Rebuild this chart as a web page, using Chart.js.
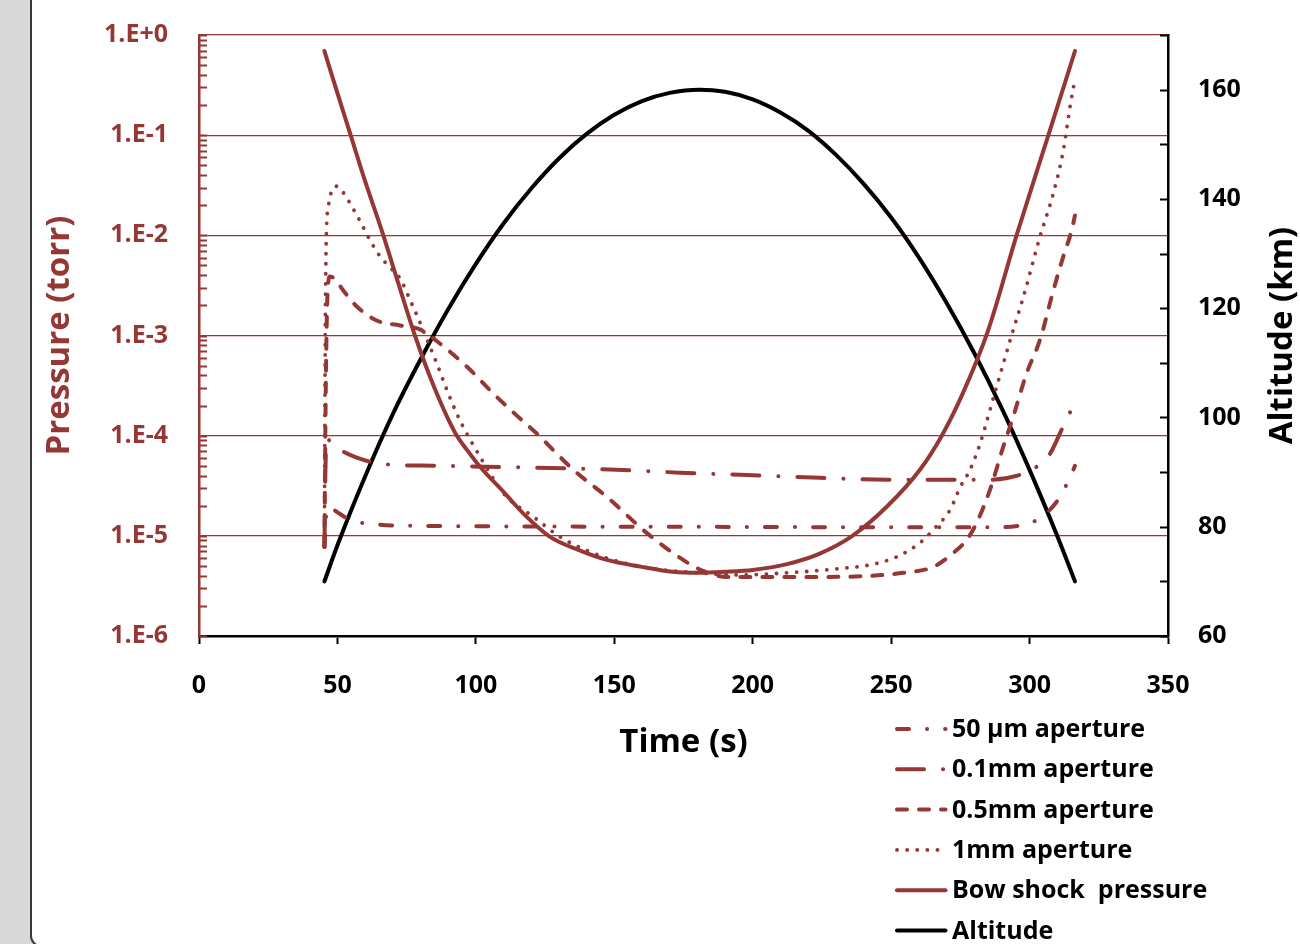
<!DOCTYPE html>
<html>
<head>
<meta charset="utf-8">
<title>Pressure and altitude vs time</title>
<script src="https://cdn.jsdelivr.net/npm/chart.js@4.4.1/dist/chart.umd.min.js"></script>
<style>
  html, body { margin: 0; padding: 0; }
  body { width: 1300px; height: 944px; background: #d9d9d9; overflow: hidden; position: relative; }
  .panel { position: absolute; left: 30px; top: -20px; width: 1290px; height: 967px; background: #fff;
           border: 2px solid #3a3a3a; border-radius: 11px; box-sizing: border-box; }
  #chart { position: absolute; left: 0; top: 0; }
</style>
</head>
<body>
<div class="panel"></div>
<canvas id="chart" width="1300" height="944"></canvas>
<script>
// --- Trajectory data: time (s), pressure (torr), altitude (km) ---
const um50Time = [45.3, 45.7, 46.2, 48, 49.7, 54.5, 65.4, 78.6, 120, 180, 240, 290, 296, 301.4, 309.8, 315.2, 316.4];
const um50Pressure = [7.76e-6, 1.26e-5, 1.91e-5, 1.86e-5, 1.74e-5, 1.45e-5, 1.29e-5, 1.26e-5, 1.24e-5, 1.23e-5, 1.22e-5, 1.22e-5, 1.26e-5, 1.38e-5, 2.19e-5, 4.17e-5, 5.01e-5];

const mm01Time = [45.3, 45.7, 46.1, 47.5, 49.5, 52.1, 57, 61.8, 69, 84.6, 122, 150.9, 173.7, 195.4, 224.3, 248.4, 272.5, 285, 296.6, 302.6, 307.4, 311.6, 314.4, 316.4];
const mm01Pressure = [7.76e-6, 5.01e-5, 9.33e-5, 8.71e-5, 7.76e-5, 6.92e-5, 6.03e-5, 5.50e-5, 5.13e-5, 5.01e-5, 4.79e-5, 4.57e-5, 4.27e-5, 4.07e-5, 3.80e-5, 3.63e-5, 3.63e-5, 3.63e-5, 4.07e-5, 4.90e-5, 6.61e-5, 1.15e-4, 1.66e-4, 2.19e-4];

const mm05Time = [45.3, 45.8, 46.4, 47.3, 49.5, 52.1, 57, 64.2, 72.6, 79.8, 87, 96.7, 106.3, 114, 122, 135.2, 147.3, 161.7, 174.9, 182, 190.6, 200, 224, 242.4, 254.4, 265.2, 272.5, 277.3, 280.9, 285.7, 290.5, 294.1, 298.9, 303.8, 308.6, 312.2, 315.2, 316.4];
const mm05Pressure = [7.76e-6, 3.16e-4, 2.51e-3, 3.89e-3, 3.55e-3, 2.82e-3, 1.95e-3, 1.41e-3, 1.26e-3, 1.15e-3, 8.32e-4, 4.90e-4, 2.63e-4, 1.66e-4, 1.05e-4, 4.57e-5, 2.45e-5, 1.07e-5, 5.75e-6, 4.47e-6, 3.89e-6, 3.89e-6, 3.89e-6, 3.98e-6, 4.27e-6, 4.90e-6, 6.76e-6, 9.12e-6, 1.35e-5, 2.88e-5, 7.76e-5, 1.55e-4, 4.17e-4, 9.12e-4, 2.82e-3, 6.17e-3, 1.12e-2, 1.58e-2];

const mm1Time = [45.3, 45.6, 46.0, 46.8, 48, 49.7, 51.5, 53.9, 58.2, 61.8, 65.4, 69, 72.6, 76.8, 79.2, 82.2, 85.9, 89.5, 93.1, 96.7, 101.5, 106.3, 111.1, 120.8, 130.4, 141.2, 153.3, 165, 180, 195, 212.3, 230.3, 242.4, 252, 260.4, 265.2, 271.3, 275, 278.5, 282, 288, 293.5, 297.8, 303.8, 308.6, 312.2, 314.6, 316.3];
const mm1Pressure = [7.76e-6, 1.0e-3, 1.0e-2, 2.0e-2, 2.82e-2, 3.09e-2, 2.82e-2, 2.24e-2, 1.38e-2, 8.91e-3, 6.17e-3, 4.79e-3, 3.72e-3, 2.09e-3, 1.48e-3, 9.33e-4, 5.25e-4, 2.88e-4, 1.66e-4, 1.05e-4, 6.17e-5, 3.72e-5, 2.45e-5, 1.55e-5, 9.77e-6, 6.92e-6, 5.37e-6, 4.68e-6, 4.27e-6, 4.07e-6, 4.27e-6, 4.68e-6, 5.13e-6, 6.17e-6, 8.51e-6, 1.15e-5, 1.82e-5, 3.09e-5, 4.57e-5, 8.13e-5, 3.02e-4, 1.0e-3, 2.45e-3, 9.77e-3, 2.63e-2, 7.08e-2, 1.91e-1, 3.55e-1];

const bowTime = [45.3, 50, 55, 60, 66, 72, 78, 85, 92.5, 97, 101.5, 110, 118, 126.8, 137, 147.3, 160, 171, 181, 190, 200, 212, 224, 236, 248.4, 260.4, 268.3, 276, 285, 295.3, 306.8, 316.4];
const bowPressure = [6.92e-1, 2.63e-1, 9.55e-2, 3.47e-2, 1.12e-2, 3.31e-3, 1.0e-3, 3.02e-4, 1.07e-4, 7.08e-5, 4.90e-5, 2.75e-5, 1.58e-5, 9.77e-6, 7.24e-6, 5.75e-6, 4.90e-6, 4.37e-6, 4.27e-6, 4.37e-6, 4.57e-6, 5.19e-6, 6.61e-6, 1.0e-5, 1.95e-5, 4.57e-5, 1.0e-4, 2.69e-4, 1.12e-3, 1.0e-2, 1.0e-1, 6.92e-1];

const altTime = [45.3, 50, 60, 70, 80, 90, 100, 110, 120, 130, 140, 150, 160, 170, 180.7, 190, 200, 210, 220, 230, 240, 250, 260, 270, 280, 290, 300, 310, 316.4];
const altKm = [70, 76.6, 89.2, 100.6, 110.6, 119.8, 128.1, 135.5, 141.9, 147.4, 151.9, 155.4, 157.9, 159.4, 160, 159.6, 158.2, 155.8, 152.5, 148.1, 142.8, 136.6, 129.3, 121, 111.8, 101.6, 90.4, 78.3, 70];

// axis ticks
const pressureTicks = [1e-6, 1e-5, 1e-4, 1e-3, 1e-2, 1e-1, 1e0];
const pressureLabels = ['1.E-6', '1.E-5', '1.E-4', '1.E-3', '1.E-2', '1.E-1', '1.E+0'];
const minorSteps = [1, 2, 3, 4, 5, 6, 7, 8, 9];

const RED = '#953735';
const FONT = '"Open Sans", sans-serif';

const pts = (xs, ys) => xs.map((x, i) => ({ x: x, y: ys[i] }));

function line(label, data, dash, extra) {
    return Object.assign({
        label: label,
        data: data,
        borderColor: RED,
        borderWidth: 4,
        borderDash: dash,
        borderCapStyle: 'round',
        borderJoinStyle: 'round',
        pointRadius: 0,
        fill: false,
        cubicInterpolationMode: 'monotone',
        yAxisID: 'y'
    }, extra || {});
}

// vertical axes: keep the plot top where the layout padding puts it
function fixVertical(width) {
    return scale => {
        scale.width = width;
        scale.paddingTop = 0;
        scale.paddingBottom = 0;
    };
}

// inner tick marks on both y axes + legend block + right axis title
const axisExtras = {
    id: 'axisExtras',
    beforeDatasetsDraw(chart) {
        const { ctx, chartArea, scales } = chart;
        const y = scales.y, y1 = scales.y1;
        ctx.save();
        ctx.lineWidth = 2;
        ctx.strokeStyle = RED;
        ctx.beginPath();
        pressureTicks.forEach(decade => {
            minorSteps.forEach(m => {
                const v = decade * m;
                if (v > y.max * 1.0001) return;
                const py = Math.round(y.getPixelForValue(v)) + 0.5;
                ctx.moveTo(chartArea.left, py);
                ctx.lineTo(chartArea.left + 8, py);
            });
        });
        ctx.stroke();

        ctx.strokeStyle = '#000';
        ctx.beginPath();
        y1.ticks.forEach(t => {
            const py = Math.round(y1.getPixelForValue(t.value)) + 0.5;
            ctx.moveTo(chartArea.right - 8, py);
            ctx.lineTo(chartArea.right, py);
        });
        ctx.stroke();
        ctx.restore();
    },
    afterDraw(chart) {
        const { ctx, chartArea } = chart;
        ctx.save();

        // legend, one row per dataset
        ctx.font = 'bold 25px ' + FONT;
        ctx.textBaseline = 'middle';
        ctx.textAlign = 'left';
        chart.data.datasets.forEach((ds, i) => {
            const yy = 729 + i * 40.3;
            ctx.strokeStyle = ds.borderColor;
            ctx.lineWidth = ds.borderWidth;
            ctx.lineCap = 'round';
            ctx.setLineDash(ds.borderDash || []);
            ctx.beginPath();
            ctx.moveTo(897, yy);
            ctx.lineTo(945.5, yy);
            ctx.stroke();
            ctx.setLineDash([]);
            ctx.fillStyle = '#000';
            ctx.fillText(ds.label, 952, yy + 1);
        });

        // right axis title reads bottom to top
        ctx.font = 'bold 33px ' + FONT;
        ctx.fillStyle = '#000';
        ctx.textAlign = 'center';
        ctx.translate(1283, (chartArea.top + chartArea.bottom) / 2);
        ctx.rotate(-Math.PI / 2);
        ctx.fillText('Altitude (km)', 0, 0);
        ctx.restore();
    }
};

Chart.defaults.font.family = FONT;
Chart.defaults.font.weight = 'bold';

new Chart(document.getElementById('chart'), {
    type: 'line',
    data: {
        datasets: [
            line('50 \u00b5m aperture', pts(um50Time, um50Pressure), [12, 18, 0.1, 18]),
            line('0.1mm aperture', pts(mm01Time, mm01Pressure), [27, 19, 0.1, 19]),
            line('0.5mm aperture', pts(mm05Time, mm05Pressure), [10, 12]),
            line('1mm aperture', pts(mm1Time, mm1Pressure), [0.1, 10], { borderWidth: 3.8 }),
            line('Bow shock  pressure', pts(bowTime, bowPressure), []),
            line('Altitude', pts(altTime, altKm), [], { borderColor: '#000', yAxisID: 'y1' })
        ]
    },
    options: {
        responsive: false,
        animation: false,
        devicePixelRatio: 1,
        layout: { padding: { top: 35, left: 0, right: 0, bottom: 0 } },
        plugins: {
            legend: { display: false },
            tooltip: { enabled: false }
        },
        scales: {
            x: {
                type: 'linear',
                min: 0,
                max: 350,
                ticks: { stepSize: 50, color: '#000', font: { size: 25, weight: 'bold' }, padding: 27, maxRotation: 0, autoSkip: false },
                grid: { drawOnChartArea: false, drawTicks: true, tickLength: 8, tickColor: '#000', tickWidth: 2 },
                border: { color: '#000', width: 2.5 },
                title: { display: true, text: 'Time (s)', color: '#000', font: { size: 33, weight: 'bold', lineHeight: 1 }, padding: { top: 0, bottom: 185 } },
                afterFit(scale) { scale.height = 308; }
            },
            y: {
                type: 'logarithmic',
                position: 'left',
                min: 1e-6,
                max: 1,
                afterBuildTicks(scale) { scale.ticks = pressureTicks.map(v => ({ value: v, major: true })); },
                ticks: {
                    color: RED,
                    font: { size: 25, weight: 'bold' },
                    padding: 31,
                    autoSkip: false,
                    callback: value => {
                        const i = pressureTicks.findIndex(t => Math.abs(Math.log10(t) - Math.log10(value)) < 1e-6);
                        return i >= 0 ? pressureLabels[i] : '';
                    }
                },
                grid: {
                    drawTicks: false,
                    lineWidth: 1.3,
                    color: ctx => (ctx.tick && ctx.tick.value <= 1e-6 * 1.001) ? 'rgba(0,0,0,0)' : RED
                },
                border: { color: RED, width: 2.5 },
                title: { display: true, text: 'Pressure (torr)', color: RED, font: { size: 33, weight: 'bold', lineHeight: 1 }, padding: { top: 43, bottom: 0 } },
                afterFit: fixVertical(199)
            },
            y1: {
                type: 'linear',
                position: 'right',
                min: 60,
                max: 170,
                ticks: {
                    stepSize: 10,
                    color: '#000',
                    font: { size: 25, weight: 'bold' },
                    padding: 30,
                    autoSkip: false,
                    callback: value => (value % 20 === 0 ? value : '')
                },
                grid: { drawOnChartArea: false, drawTicks: false },
                border: { color: '#000', width: 2.5 },
                afterFit: fixVertical(132)
            }
        }
    },
    plugins: [axisExtras]
});
</script>
</body>
</html>
